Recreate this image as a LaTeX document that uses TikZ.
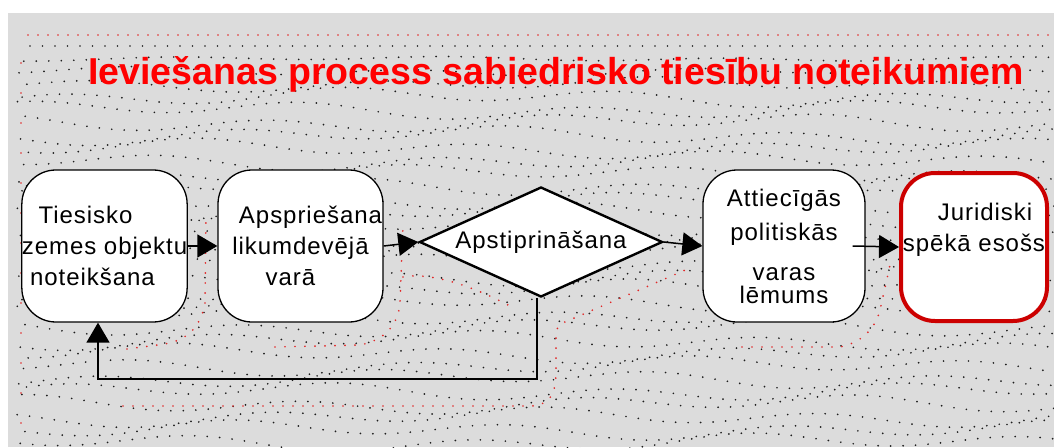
\documentclass[tikz,border=0pt]{standalone}
\usepackage{fontspec}
\setmainfont{Liberation Sans}
\newfontfamily\boxfont[LetterSpace=4]{Liberation Sans}
\usetikzlibrary{arrows.meta,shapes.geometric}
\definecolor{panelgray}{RGB}{220,220,220}
\definecolor{titlered}{RGB}{255,0,0}
\definecolor{boxred}{RGB}{204,0,0}
\definecolor{dotred}{RGB}{225,40,40}
\definecolor{dotblack}{RGB}{30,30,30}
\begin{document}
\begin{tikzpicture}[x=1pt,y=-1pt,
  dotline/.style={line width=1.9pt, line cap=round, dash pattern=on 0pt off 12.5pt, draw=dotblack},
  reddots/.style={line width=1.9pt, line cap=round, dash pattern=on 0pt off 10pt, draw=dotred},
  flowbox/.style={draw=black, line width=1.3pt, fill=white, rounded corners=34pt,
    minimum width=165pt, minimum height=152pt, inner sep=0pt, align=center,
    font=\boxfont\fontsize{24}{31}\selectfont},
  decision/.style={diamond, draw=black, line width=2.4pt, fill=white, aspect=2.2,
    minimum width=243pt, minimum height=110pt, inner sep=0pt,
    font=\boxfont\fontsize{24}{31}\selectfont},
  arr/.style={line width=1.5pt, -{Triangle[length=20pt,width=23pt]}}
]
\useasboundingbox (0,0) rectangle (1054,447);
\fill[panelgray] (8,13) rectangle (1054,447);

% background dotted contour texture
\draw[dotline] (30,46) -- (1054,46);
\foreach \i in {1,...,31}{
  \pgfmathsetmacro\yy{46+12.8*\i}
  \pgfmathsetmacro\amp{min(\i,4)*1.6}
  \pgfmathsetmacro\ph{mod(\i*4.7,12.5)}
  \draw[dotline, dash phase=\ph pt] plot[domain=16:1054, samples=110, smooth]
    (\x, {\yy + \amp*sin(1.3*\x + 47*\i) + 0.6*\amp*sin(0.45*\x + 113*\i)});
}
% red contour lines
\draw[reddots] (28,35) -- (1054,35);
\draw[reddots, dash pattern=on 0pt off 30pt] (21,63) -- (21,440);
\draw[reddots] (127,349) -- (165,344) .. controls (185,340) and (200,330) .. (205,303) -- (206,215);
\draw[reddots] (275,347) -- (360,345) .. controls (385,340) and (398,325) .. (400,303) -- (403,225);
\draw[reddots] (403,277) .. controls (430,272) and (470,285) .. (508,305);
\draw[reddots] (123,406) -- (532,406) .. controls (550,404) and (556,395) .. (556,370) -- (556,332) .. controls (558,325) and (562,323) .. (565,322) -- (690,268);
\draw[reddots] (742,347) -- (840,347) .. controls (860,343) and (875,330) .. (880,310) -- (890,265);

% title
\node[anchor=base west, text=titlered, inner sep=0pt,
  font=\bfseries\fontsize{37.5}{40}\selectfont] (title) at (88,84)
  {Ieviešanas process sabiedrisko tiesību noteikumiem};

% nodes
\node[flowbox] (b1) at (104.5,246) {Tiesisko\hspace*{38pt}\\zemes objektu\\noteikšana\hspace*{24pt}};
\node[flowbox] (b2) at (300.5,246) {\hspace*{20pt}Apspriešana\\likumdevējā\\varā\hspace*{20pt}};
\node[decision] (d) at (541,242) {Apstiprināšana};
\node[flowbox, minimum width=162pt] (b4) at (784,246)
  {Attiecīgās\\[3pt]politiskās\\[9pt]varas\\[-8pt]lēmums};
\node[flowbox, draw=boxred, line width=4pt, minimum width=146pt, minimum height=148pt] (b5) at (974,247)
  {\hspace*{22pt}Juridiski\\spēkā esošs\\[8pt]};

% connectors
\draw[arr] (b1.east) -- (b2.west);
\draw[arr] (b2.east) -- (d.west);
\draw[arr] (d.east) -- (b4.west);
\draw[arr] ([xshift=-13pt]b4.east) -- (b5.west);
\coordinate (fbR) at (537,379);
\coordinate (fbL) at (98,379);
\draw[arr] (d.south -| fbR) -- (fbR) -- (fbL) -- (b1.south -| fbL);
\end{tikzpicture}
\end{document}
